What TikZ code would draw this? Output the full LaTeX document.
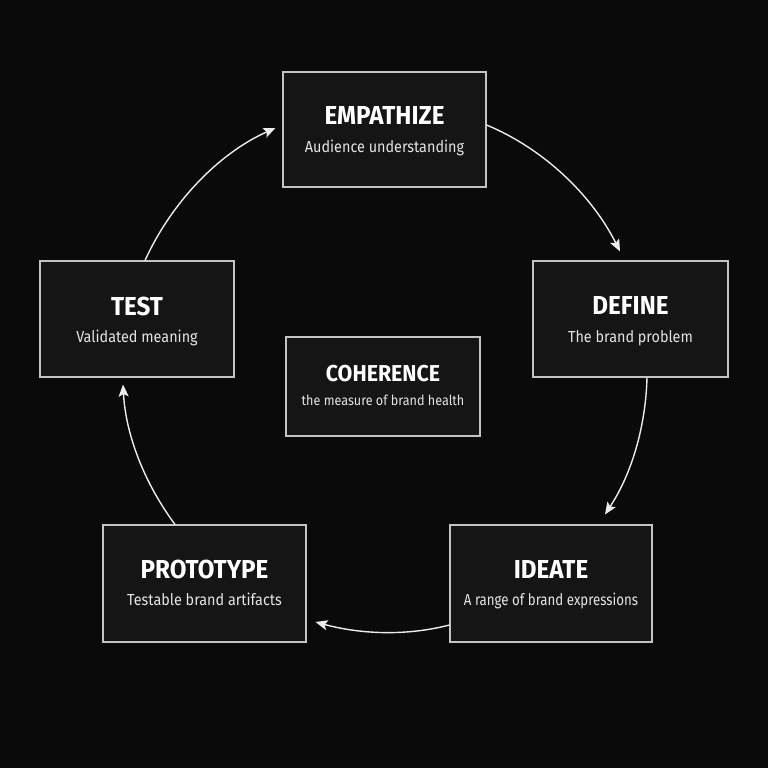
\documentclass[tikz,border=0pt]{standalone}
\usepackage{fontspec}
\setmainfont{Fira Sans}
\newfontfamily\titlefont{Fira Sans}[FakeStretch=0.93]
\newfontfamily\subfont{Fira Sans}[FakeStretch=0.9]
\newfontfamily\subnarrow{Fira Sans}[FakeStretch=0.83]
\usetikzlibrary{arrows.meta}
\definecolor{bg}{HTML}{0A0A0A}
\definecolor{boxfill}{HTML}{151515}
\definecolor{boxline}{HTML}{C4C4C4}
\definecolor{subtext}{HTML}{E4E4E4}
\definecolor{arrowc}{HTML}{ECECEC}
\tikzset{
  stage/.style={draw=boxline, fill=boxfill, line width=1.1pt, inner sep=0pt},
  ttl/.style={font=\titlefont\bfseries\fontsize{26}{26}\selectfont, text=white, anchor=base, inner sep=0pt},
  sub/.style={font=\subfont\fontsize{16}{16}\selectfont, text=subtext, anchor=base, inner sep=0pt},
  flow/.style={draw=arrowc, line width=1.4pt, looseness=0.87, -{Stealth[length=12pt,width=10pt,inset=2.5pt]}}
}
\begin{document}
\begin{tikzpicture}[x=1pt,y=1pt]
\path[fill=bg] (0,0) rectangle (768,768);
\useasboundingbox (0,0) rectangle (768,768);

\node[stage, minimum width=203pt, minimum height=115pt] (emp) at (384.5,638.5) {};
\node[stage, minimum width=195pt, minimum height=116pt] (def) at (630.5,449) {};
\node[stage, minimum width=202pt, minimum height=117pt] (ide) at (551,184.5) {};
\node[stage, minimum width=203pt, minimum height=117pt] (pro) at (204.5,184.5) {};
\node[stage, minimum width=194pt, minimum height=116pt] (tst) at (137,449) {};
\node[stage, minimum width=194pt, minimum height=99pt] (coh) at (383,381.5) {};

\node[ttl] (empt) at ([yshift=4.5pt]emp.center) {EMPATHIZE};
\node[sub] (emps) at ([yshift=-23.5pt]emp.center) {Audience understanding};
\node[ttl] (deft) at ([yshift=4pt]def.center) {DEFINE};
\node[sub] (defs) at ([yshift=-23.5pt]def.center) {The brand problem};
\node[ttl] (idet) at ([yshift=4.5pt]ide.center) {IDEATE};
\node[sub, font=\subnarrow\fontsize{16}{16}\selectfont] (ides) at ([yshift=-22pt]ide.center) {A range of brand expressions};
\node[ttl] (prot) at ([yshift=4.5pt]pro.center) {PROTOTYPE};
\node[sub] (pros) at ([yshift=-22pt]pro.center) {Testable brand artifacts};
\node[ttl] (tstt) at ([yshift=3.5pt]tst.center) {TEST};
\node[sub] (tsts) at ([yshift=-24pt]tst.center) {Validated meaning};
\node[ttl, font=\titlefont\bfseries\fontsize{23}{23}\selectfont] (coht) at ([yshift=4.8pt]coh.center) {COHERENCE};
\node[sub, font=\subfont\fontsize{14}{14}\selectfont] (cohs) at ([yshift=-19.5pt]coh.center) {the measure of brand health};

\draw[flow] ([yshift=4.5pt]emp.east) to[out=-22.6, in=116.6] ([xshift=-10.5pt,yshift=9pt]def.north);
\draw[flow] ([xshift=16.5pt]def.south) to[out=-91.5, in=56.7] ([xshift=54pt,yshift=10pt]ide.north);
\draw[flow] ([yshift=-41.5pt]ide.west) to[out=-165.5, in=-15.3] ([xshift=9pt,yshift=-38.5pt]pro.east);
\draw[flow] ([xshift=-29.5pt]pro.north) to[out=126.6, in=-86.9] ([xshift=-14pt,yshift=-7pt]tst.south);
\draw[flow] ([xshift=8pt]tst.north) to[out=65.5, in=204.1] ([xshift=-7pt,yshift=1.5pt]emp.west);
\end{tikzpicture}
\end{document}
